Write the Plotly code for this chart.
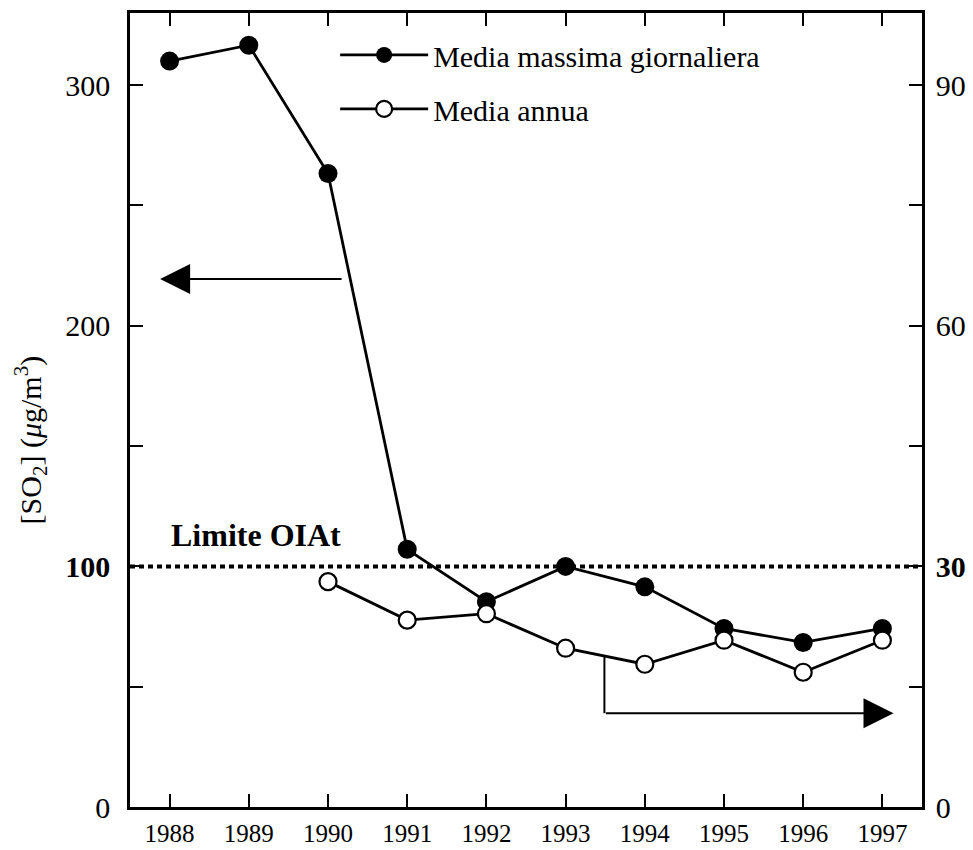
import plotly.graph_objects as go

# ---- data ----
years = [1988, 1989, 1990, 1991, 1992, 1993, 1994, 1995, 1996, 1997]
max_daily = [310, 316.6, 263.3, 107.1, 85.3, 100, 91.5, 74.2, 68.4, 74.2]   # left axis, µg/m3
annual_years = [1990, 1991, 1992, 1993, 1994, 1995, 1996, 1997]
annual_mean = [28.1, 23.3, 24.1, 19.8, 17.8, 20.8, 16.8, 20.8]            # right axis
limit_left = 100
left_ticks = [0, 100, 200, 300]
left_text = ["0", "<b>100</b>", "200", "300"]
right_ticks = [0, 30, 60, 90]
right_text = ["0", "<b>30</b>", "60", "90"]
names = ["Media massima giornaliera", "Media annua"]
limit_label = "Limite OIAt"

# annotation arrow positions (data coords)
left_arrow = dict(x_from=1990.19, x_to=1987.88, y=219.4)
right_arrow = dict(x=1993.49, y_top=18.7, y=11.7, x_to=1997.14)

FONT = "Liberation Serif"

fig = go.Figure()
fig.add_trace(go.Scatter(
    x=years, y=max_daily, name=names[0], mode="lines+markers",
    line=dict(color="black", width=2.8),
    marker=dict(symbol="circle", size=19, color="black"),
    yaxis="y", legendgroup="a"))
fig.add_trace(go.Scatter(
    x=annual_years, y=annual_mean, name=names[1], mode="lines+markers",
    line=dict(color="black", width=2.8),
    marker=dict(symbol="circle", size=17, color="white", line=dict(color="black", width=2.2)),
    yaxis="y2", legendgroup="b"))

# limit line
fig.add_shape(type="line", xref="paper", x0=0, x1=1, yref="y", y0=limit_left, y1=limit_left,
              line=dict(color="black", width=4, dash="5px,4px"))

# right-arrow vertical segment
fig.add_shape(type="line", xref="x", yref="y2",
              x0=right_arrow["x"], x1=right_arrow["x"],
              y0=right_arrow["y_top"], y1=right_arrow["y"],
              line=dict(color="black", width=2))

fig.add_annotation(x=left_arrow["x_to"], y=left_arrow["y"], ax=left_arrow["x_from"], ay=left_arrow["y"],
                   xref="x", yref="y", axref="x", ayref="y", text="", showarrow=True,
                   arrowhead=2, arrowsize=3, arrowwidth=2, arrowcolor="black")
fig.add_annotation(x=right_arrow["x_to"], y=right_arrow["y"], ax=right_arrow["x"], ay=right_arrow["y"],
                   xref="x", yref="y2", axref="x", ayref="y2", text="", showarrow=True,
                   arrowhead=2, arrowsize=3, arrowwidth=2, arrowcolor="black")

fig.add_annotation(x=0.049, xref="paper", y=113, yref="y", text="<b>" + limit_label + "</b>",
                   showarrow=False, xanchor="left", yanchor="middle",
                   font=dict(family=FONT, size=32, color="black"))

fig.add_annotation(x=-0.126, xref="paper", y=0.462, yref="paper",
                   text="[SO<sub>2</sub>] (<i>μ</i>g/m<sup>3</sup>)", textangle=-90,
                   showarrow=False, xanchor="center", yanchor="middle",
                   font=dict(family=FONT, size=30, color="black"))

axis_common = dict(showgrid=False, zeroline=False, showline=True, linecolor="black", linewidth=2.5,
                   ticks="inside", ticklen=13, tickwidth=2, tickcolor="black", automargin=False)
minor_common = dict(ticks="inside", ticklen=13, tickwidth=2, tickcolor="black", showgrid=False)

fig.update_layout(
    width=973, height=850,
    margin=dict(l=130, r=51, t=13, b=43),
    paper_bgcolor="white", plot_bgcolor="white",
    font=dict(family=FONT, color="black"),
    showlegend=True,
    legend=dict(x=0.259, y=0.98, xanchor="left", yanchor="top",
                bgcolor="rgba(0,0,0,0)", font=dict(family=FONT, size=30),
                traceorder="grouped", tracegroupgap=12, itemwidth=88),
    xaxis=dict(range=[1987.5, 1997.5], tickvals=years, mirror="ticks",
               tickfont=dict(family=FONT, size=25), ticklabelstandoff=2, **axis_common),
    yaxis=dict(range=[0, 330], tickvals=left_ticks, ticktext=left_text,
               minor=dict(tickvals=[50, 150, 250], **minor_common),
               tickfont=dict(family=FONT, size=30), ticklabelstandoff=11, **axis_common),
    yaxis2=dict(range=[0, 99], tickvals=right_ticks, ticktext=right_text, overlaying="y", side="right",
                minor=dict(tickvals=[15, 45, 75], **minor_common),
                tickfont=dict(family=FONT, size=30), ticklabelstandoff=5, **axis_common),
)

fig.write_html("out.html")
